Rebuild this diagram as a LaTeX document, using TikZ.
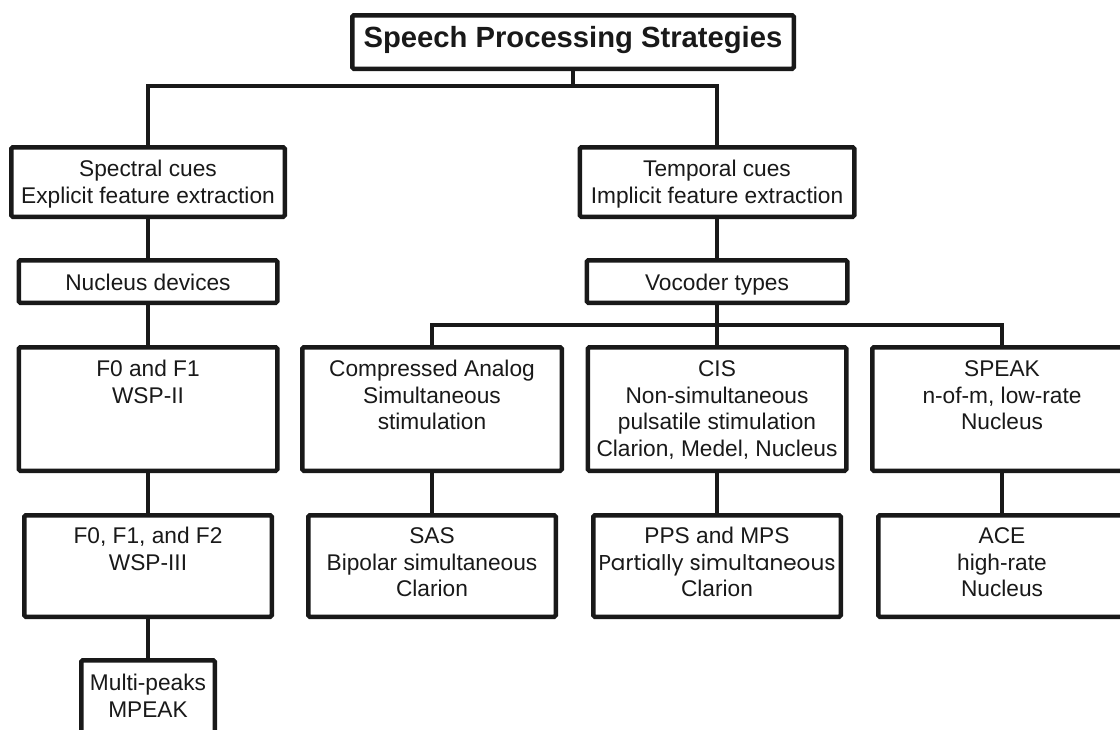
\documentclass[tikz,border=0pt]{standalone}
\usepackage{fontspec}
\setmainfont{Liberation Sans}
\newfontfamily\comicfont{Poppins}
\usetikzlibrary{calc}
\tikzset{
  box/.style={draw=black!90, line width=4.5pt, rounded corners=1.5pt, inner sep=0pt, outer sep=2.25pt, fill=white},
  txt/.style={anchor=north, inner sep=0pt, align=center, text=black!90, font=\fontsize{22.7}{26.8}\selectfont},
  conn/.style={draw=black!90, line width=4.5pt, line join=miter}
}
\begin{document}
\begin{tikzpicture}[x=1pt,y=-1pt]
\useasboundingbox (0,0) rectangle (1120,729);
% boxes
\node[box, minimum width=441.5pt, minimum height=53.5pt] (title) at (573,42) {};
\node[box, minimum width=273.5pt, minimum height=69.5pt] (spectral) at (148,182) {};
\node[box, minimum width=274.5pt, minimum height=69.5pt] (temporal) at (717,182) {};
\node[box, minimum width=258.5pt, minimum height=42.5pt] (nucleus) at (148,281.5) {};
\node[box, minimum width=260.5pt, minimum height=42.5pt] (vocoder) at (717,281.5) {};
\node[box, minimum width=258.5pt, minimum height=123.5pt] (f0f1) at (148,409) {};
\node[box, minimum width=259.5pt, minimum height=123.5pt] (compressed) at (432,409) {};
\node[box, minimum width=258.5pt, minimum height=123.5pt] (cis) at (717,409) {};
\node[box, minimum width=259.5pt, minimum height=123.5pt] (speak) at (1002,409) {};
\node[box, minimum width=247.5pt, minimum height=101.5pt] (f0f1f2) at (148,566) {};
\node[box, minimum width=247.5pt, minimum height=101.5pt] (sas) at (432,566) {};
\node[box, minimum width=247.5pt, minimum height=101.5pt] (pps) at (717,566) {};
\node[box, minimum width=247.5pt, minimum height=101.5pt] (ace) at (1002,566) {};
\node[box, minimum width=133.5pt, minimum height=79.5pt] (mpeak) at (148,700) {};
% texts
\node[anchor=base, inner sep=0pt, text=black!90, font=\fontsize{29.2}{34}\selectfont\bfseries] (ttitle) at (573,47) {Speech Processing Strategies};
\node[txt] (tspectral) at (148,157.24) {\strut Spectral cues\\Explicit feature extraction};
\node[txt] (ttemporal) at (717,157.24) {\strut Temporal cues\\Implicit feature extraction};
\node[txt] (tnucleus) at (148,271.24) {\strut Nucleus devices};
\node[txt] (tvocoder) at (717,271.24) {\strut Vocoder types};
\node[txt] (tf0f1) at (148,357.24) {\strut F0 and F1\\WSP-II};
\node[txt] (tcompressed) at (432,357.24) {\strut Compressed Analog\\Simultaneous\\stimulation};
\node[txt] (tcis) at (717,357.24) {\strut CIS\\Non-simultaneous\\pulsatile stimulation\\Clarion, Medel, Nucleus};
\node[txt] (tspeak) at (1002,357.24) {\strut SPEAK\\n-of-m, low-rate\\Nucleus};
\node[txt] (tf0f1f2) at (148,524.24) {\strut F0, F1, and F2\\WSP-III};
\node[txt] (tsas) at (432,524.24) {\strut SAS\\Bipolar simultaneous\\Clarion};
\node[txt] (tpps) at (717,524.24) {\strut PPS and MPS\\{\comicfont\fontsize{21.5}{26.8}\selectfont Partially simultaneous}\\Clarion};
\node[txt] (tace) at (1002,524.24) {\strut ACE\\high-rate\\Nucleus};
\node[txt] (tmpeak) at (148,671.24) {\strut Multi-peaks\\MPEAK};
% connectors
\coordinate (j1) at (573,86);
\coordinate (j2) at (717,325);
\draw[conn] (title.south) -- (j1);
\draw[conn] (spectral.north) |- (j1) -| (temporal.north);
\draw[conn] (spectral.south) -- (nucleus.north);
\draw[conn] (nucleus.south) -- (f0f1.north);
\draw[conn] (f0f1.south) -- (f0f1f2.north);
\draw[conn] (f0f1f2.south) -- (mpeak.north);
\draw[conn] (temporal.south) -- (vocoder.north);
\draw[conn] (vocoder.south) -- (j2);
\draw[conn] (compressed.north) |- (j2) -| (speak.north);
\draw[conn] (j2) -- (cis.north);
\draw[conn] (compressed.south) -- (sas.north);
\draw[conn] (cis.south) -- (pps.north);
\draw[conn] (speak.south) -- (ace.north);
\end{tikzpicture}
\end{document}
